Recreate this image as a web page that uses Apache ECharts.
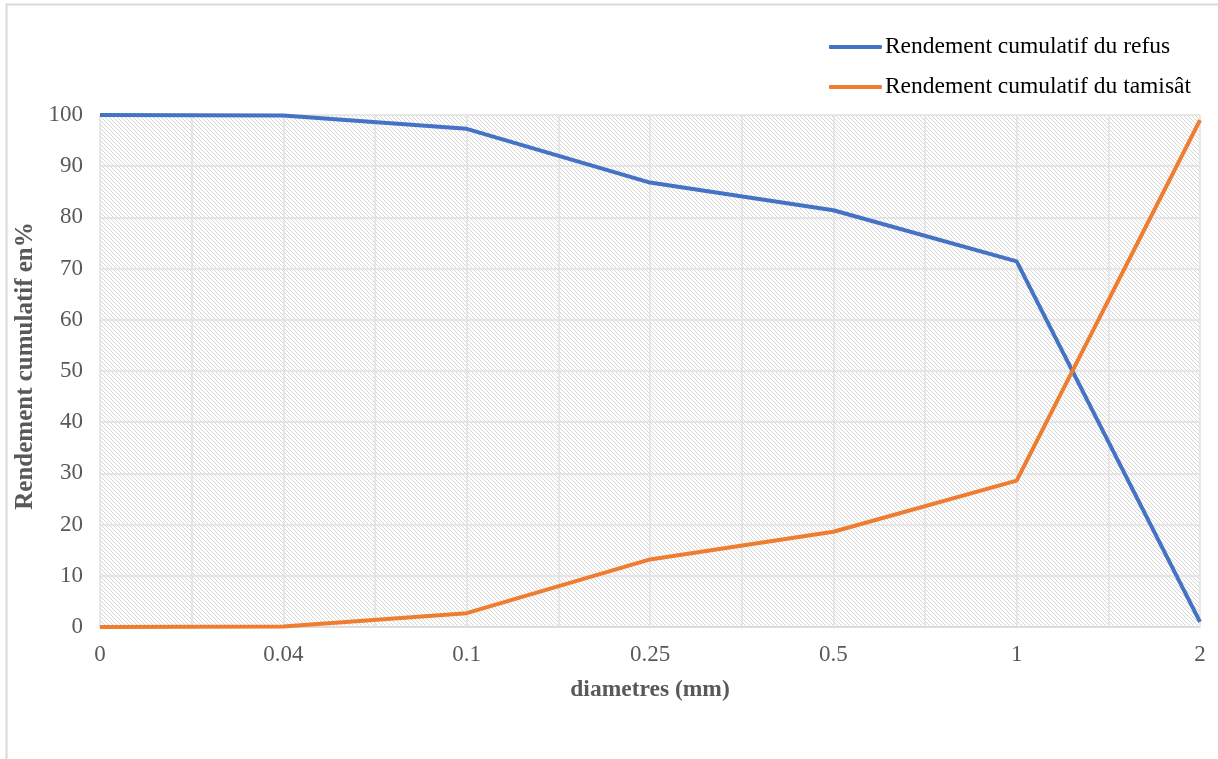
<!DOCTYPE html>
<html>
<head>
<meta charset="utf-8">
<script src="https://cdn.jsdelivr.net/npm/echarts@6/dist/echarts.min.js"></script>
<style>
html,body{margin:0;padding:0;background:#fff;}
#chart{width:1218px;height:759px;}
</style>
</head>
<body>
<div id="chart"></div>
<script>
const categories = ['0', '0.04', '0.1', '0.25', '0.5', '1', '2'];
const refus = [100, 99.9, 97.3, 86.8, 81.4, 71.4, 1.0];
const tamisat = [0, 0.1, 2.7, 13.2, 18.6, 28.6, 99.0];
const seriesNames = ['Rendement cumulatif du refus', 'Rendement cumulatif du tamisât'];
const yTicks = { min: 0, max: 100, interval: 10 };

// hatch pattern for plot background
const tile = document.createElement('canvas');
tile.width = 4; tile.height = 4;
const tc = tile.getContext('2d');
tc.fillStyle = '#ffffff';
tc.fillRect(0, 0, 4, 4);
tc.fillStyle = '#d6d6d6';
for (let i = 0; i < 4; i++) tc.fillRect(i, i, 1, 1);

const chart = echarts.init(document.getElementById('chart'));
const font = '"Liberation Serif", "Times New Roman", serif';
chart.setOption({
  backgroundColor: '#ffffff',
  animation: false,
  textStyle: { fontFamily: font },
  graphic: [{
    type: 'rect',
    shape: { x: 6.5, y: 4.5, width: 1220, height: 760 },
    style: { fill: 'none', stroke: '#d9d9d9', lineWidth: 2 },
    silent: true
  }],
  legend: {
    orient: 'vertical',
    right: 22,
    top: 30,
    itemGap: 16,
    itemWidth: 53,
    itemHeight: 4,
    icon: 'roundRect',
    textStyle: { fontFamily: font, fontSize: 23.5, color: '#000000', padding: [0, 0, 0, -2] },
    data: seriesNames
  },
  grid: {
    left: 100, right: 18, top: 115, bottom: 132,
    show: true,
    backgroundColor: { image: tile, repeat: 'repeat' },
    borderWidth: 0
  },
  xAxis: [{
    type: 'category',
    data: categories,
    boundaryGap: false,
    axisLine: { show: true, lineStyle: { color: '#d9d9d9', width: 1.5 } },
    axisTick: { show: false },
    axisLabel: { color: '#595959', fontSize: 23, fontFamily: font, margin: 16 },
    splitLine: { show: false },
    name: 'diametres (mm)',
    nameLocation: 'middle',
    nameGap: 51,
    nameTextStyle: { color: '#595959', fontSize: 23.5, fontWeight: 'bold', fontFamily: font }
  }, {
    type: 'value',
    min: 0, max: 6, interval: 0.5,
    position: 'bottom',
    axisLine: { show: false },
    axisTick: { show: false },
    axisLabel: { show: false },
    splitLine: { show: true, lineStyle: { color: '#e0e0e0', width: 1.5 } }
  }],
  yAxis: {
    type: 'value',
    min: yTicks.min, max: yTicks.max, interval: yTicks.interval,
    axisLine: { show: false },
    axisTick: { show: false },
    axisLabel: { color: '#595959', fontSize: 23, fontFamily: font, margin: 17 },
    splitLine: { show: true, lineStyle: { color: '#e0e0e0', width: 1.5 } },
    name: 'Rendement cumulatif en%',
    nameLocation: 'middle',
    nameGap: 62,
    nameTextStyle: { color: '#595959', fontSize: 25, fontWeight: 'bold', fontFamily: font, padding: [0, 0, 0, 10] }
  },
  series: [{
    name: seriesNames[0],
    type: 'line',
    xAxisIndex: 0,
    data: refus,
    symbol: 'none',
    lineStyle: { color: '#4472C4', width: 4 },
    itemStyle: { color: '#4472C4' }
  }, {
    name: seriesNames[1],
    type: 'line',
    xAxisIndex: 0,
    data: tamisat,
    symbol: 'none',
    lineStyle: { color: '#ED7D31', width: 4 },
    itemStyle: { color: '#ED7D31' }
  }]
});
</script>
</body>
</html>
